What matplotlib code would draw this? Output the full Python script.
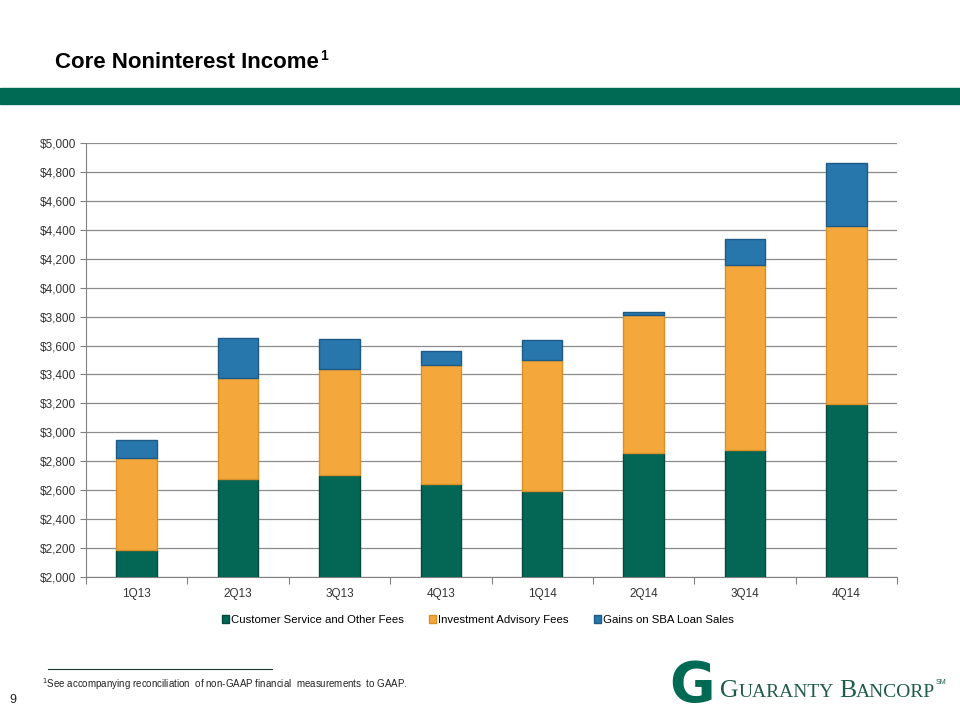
import matplotlib
matplotlib.use("Agg")
import matplotlib.pyplot as plt
import numpy as np
from matplotlib.patches import Rectangle
from matplotlib.ticker import FuncFormatter, FixedLocator

quarters = ["1Q13", "2Q13", "3Q13", "4Q13", "1Q14", "2Q14", "3Q14", "4Q14"]
customer_fees = [2185, 2680, 2705, 2640, 2595, 2855, 2875, 3195]
investment_fees = [637, 695, 733, 825, 905, 956, 1282, 1231]
sba_gains = [128, 277, 207, 97, 138, 24, 177, 438]
series_names = ["Customer Service and Other Fees", "Investment Advisory Fees", "Gains on SBA Loan Sales"]
yticks = list(range(2000, 5001, 200))

GREEN = "#046756"
ORANGE = "#F4A83B"
BLUE = "#2877AC"
colors = [GREEN, ORANGE, BLUE]
edges = ["#034a3e", "#d9902a", "#1d5a85"]

plt.rcParams['font.family'] = ['Liberation Sans', 'DejaVu Sans']

fig = plt.figure(figsize=(9.6, 7.2), dpi=100)
W, H = 960, 720

# green band
fig.patches.append(Rectangle((0, 1 - 104 / H), 1, 16 / H, transform=fig.transFigure,
                             color="#006A55", zorder=0))
# title
t = fig.text(55 / W, 1 - 62 / H, "Core Noninterest Income", fontsize=16, fontweight="bold",
             va="center", ha="left")

ax = fig.add_axes([86 / W, 1 - 577 / H, 811 / W, 434 / H])
x = np.arange(len(quarters))
bw = 0.4
bottom = np.zeros(len(quarters))
handles = []
for vals, c, ec, name in zip([customer_fees, investment_fees, sba_gains], colors, edges, series_names):
    b = ax.bar(x, vals, bw, bottom=bottom, color=c, edgecolor=ec, linewidth=1.0, label=name, zorder=3)
    handles.append(b)
    bottom = bottom + np.array(vals)

ax.set_ylim(2000, 5000)
ax.set_xlim(-0.5, len(quarters) - 0.5)
ax.set_yticks(yticks)
ax.yaxis.set_major_formatter(FuncFormatter(lambda v, p: "${:,.0f}".format(v)))
ax.tick_params(axis="y", labelsize=8.5, colors="#333333", length=4, width=0.8, color="#808080", pad=3)
ax.grid(axis="y", color="#8c8c8c", linewidth=0.9, zorder=0)
ax.set_axisbelow(True)

ax.xaxis.set_major_locator(FixedLocator(x))
ax.set_xticklabels(quarters)
ax.xaxis.set_minor_locator(FixedLocator(np.arange(-0.5, len(quarters), 1.0)))
ax.tick_params(axis="x", which="major", length=0, labelsize=8.5, colors="#333333", pad=8)
ax.tick_params(axis="x", which="minor", length=5, width=0.8, color="#808080")

for s in ["top", "right"]:
    ax.spines[s].set_visible(False)
ax.spines["left"].set_color("#808080")
ax.spines["bottom"].set_color("#808080")

leg = fig.legend(handles=handles, labels=series_names, loc="center", bbox_to_anchor=(478 / W, 1 - 620 / H),
                 ncol=3, frameon=False, fontsize=8.2, handlelength=0.6, handleheight=0.6,
                 handletextpad=0.2, columnspacing=2.2)

# footnote
fig.add_artist(plt.Line2D([48 / W, 272 / W], [1 - 669 / H, 1 - 669 / H], transform=fig.transFigure,
                          color="#1a3a30", linewidth=0.8))
fig.text(42 / W, 1 - 684 / H, "$^{1}$See accompanying reconciliation  of non-GAAP financial  measurements  to GAAP.",
         fontsize=7, va="center", ha="left", color="#222222")
fig.text(13 / W, 1 - 700 / H, "9", fontsize=9, va="center", ha="center", color="#222222")

renderer = fig.canvas.get_renderer()

def chain(x0, y0, pieces):
    """Place text pieces left to right starting at pixel x0, baseline y0 (from top)."""
    cur = x0
    for txt, size, family, col, dy in pieces:
        tt = fig.text(cur / W, 1 - (y0 + dy) / H, txt, fontsize=size, color=col, va="baseline",
                      ha="left", family=family)
        bb = tt.get_window_extent(renderer=renderer)
        cur += bb.width
    return cur

# title superscript
tb = t.get_window_extent(renderer=renderer)
fig.text((tb.x1 + 1) / W, 1 - 56 / H, "1", fontsize=10, fontweight="bold", va="center", ha="left")

# logo
fig.text(692 / W, 1 - 686 / H, "G", fontsize=40, fontweight="bold", color="#006A55",
         va="center", ha="center", family=['DejaVu Sans'])
serif = ['Liberation Serif', 'DejaVu Serif']
lc = "#1f5b4b"
end = chain(720, 697, [("G", 18.5, serif, lc, 0), ("UARANTY", 14, serif, lc, 0), (" ", 14, serif, lc, 0),
                       ("B", 18.5, serif, lc, 0), ("ANCORP", 14, serif, lc, 0)])
fig.text((end + 1) / W, 1 - 683 / H, "SM", fontsize=5, color=lc, va="center", ha="left",
         family=['Liberation Sans', 'DejaVu Sans'])

fig.savefig("out.png", dpi=100)
